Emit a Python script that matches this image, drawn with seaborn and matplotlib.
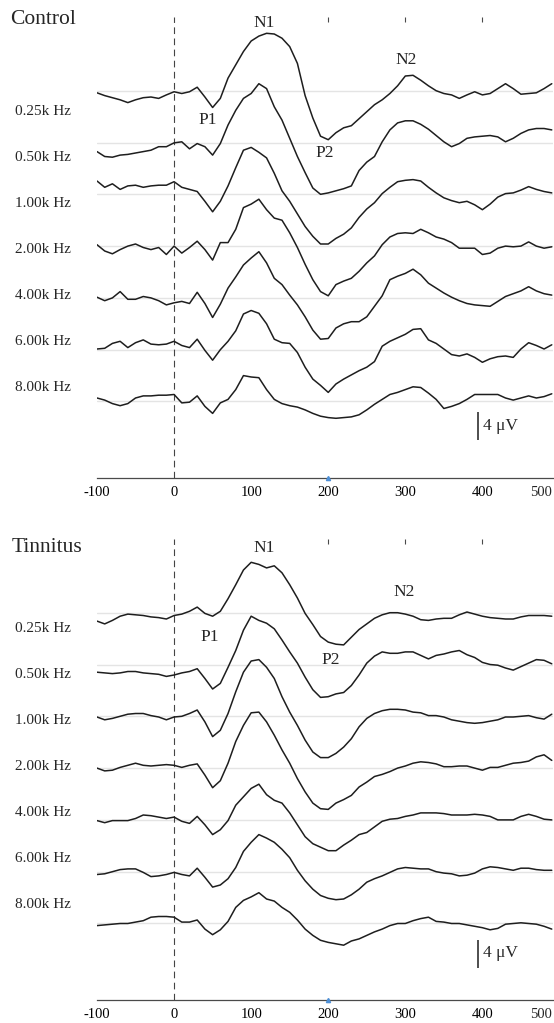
import numpy as np
import matplotlib
matplotlib.use("Agg")
import matplotlib.pyplot as plt
import seaborn as sns

# ---------------------------------------------------------------- data
TIME = np.arange(-100, 491, 10)          # ms
FREQ_LABELS = ["0.25k Hz", "0.50k Hz", "1.00k Hz", "2.00k Hz",
               "4.00k Hz", "6.00k Hz", "8.00k Hz"]
XTICKS = [-100, 0, 100, 200, 300, 400]
XTICK_LABELS = ["-100", "0", "100", "200", "300", "400"]
LAST_TICK_LABEL = "500"
SCALE_UV = 4

# grand-average waveforms (µV), one value every 10 ms from -100 to 490 ms
control_025 = [0.3, 0.7, 1.0, 1.3, 1.7, 1.3, 1.0, 0.9, 1.1, 0.6,
               0.15, 0.4, 0.15, -0.5, 0.9, 2.4, 1.1, -1.8, -3.7, -5.6,
               -7.1, -7.8, -8.2, -8.1, -7.5, -6.3, -3.9, 0.7, 3.9, 6.5,
               7.0, 6.0, 5.3, 5.0, 4.0, 3.0, 2.0, 1.3, 0.4, -0.7,
               -2.1, -2.2, -1.5, -0.7, 0.0, 0.4, 0.6, 1.1, 0.6, 0.15,
               0.6, 0.4, -0.3, -1.0, -0.3, 0.5, 0.4, 0.3, -0.3, -1.0]
control_050 = [1.3, 2.0, 2.1, 1.8, 1.7, 1.5, 1.3, 1.1, 0.6, 0.6,
               0.05, -0.1, 0.9, 0.15, 0.6, 1.8, 0.15, -2.5, -4.6, -6.3,
               -7.0, -8.4, -7.7, -5.1, -3.2, -0.6, 2.0, 4.3, 6.5, 7.4,
               7.2, 6.9, 6.6, 6.2, 4.0, 2.8, 2.0, -0.1, -1.8, -2.8,
               -3.1, -3.1, -2.6, -1.9, -1.0, -0.1, 0.6, 0.15, -0.6, -0.8,
               -0.9, -1.0, -0.8, -0.1, -0.6, -1.3, -1.8, -2.0, -2.0, -1.8]
control_100 = [-1.9, -1.0, -1.5, -0.7, -1.2, -1.3, -1.0, -1.2, -1.3, -1.3,
               -1.8, -1.0, -0.7, -0.4, 1.0, 2.5, 1.0, -1.2, -3.8, -6.3,
               -6.7, -6.0, -5.2, -3.0, -0.5, 1.0, 2.8, 4.6, 6.0, 7.1,
               7.1, 6.3, 5.7, 4.8, 3.3, 2.1, 1.2, -0.1, -1.0, -1.8,
               -2.0, -2.1, -1.9, -1.0, -0.2, 0.5, 0.9, 1.2, 1.0, 1.5,
               2.2, 1.4, 0.4, -0.1, -0.2, -0.6, -1.1, -0.7, -0.4, -0.2]
control_200 = [-0.2, 0.7, 1.1, 0.5, 0.0, -0.3, 0.2, 0.5, 0.2, 1.2,
               0.0, 1.0, 0.2, -0.7, 0.5, 2.0, -0.5, -0.5, -2.4, -5.5,
               -6.0, -6.7, -5.2, -4.0, -3.7, -1.9, 0.2, 2.6, 4.8, 6.5,
               7.1, 5.5, 5.0, 4.6, 3.6, 2.4, 1.4, -0.2, -1.3, -1.8,
               -1.9, -1.8, -2.4, -1.9, -1.3, -1.0, -0.5, 0.3, 0.3, 0.3,
               1.2, 1.0, 0.3, 0.0, 0.1, 0.0, -0.6, 0.0, 0.3, 0.1]
control_400 = [-0.1, 0.4, 0.0, -0.9, 0.2, 0.2, -0.2, 0.0, 0.4, 1.0,
               0.7, 0.5, 0.8, -0.8, 0.8, 2.8, 0.9, -1.4, -3.0, -4.7,
               -5.7, -6.6, -5.0, -2.8, -1.9, -0.4, 1.0, 2.7, 4.6, 5.9,
               5.8, 4.3, 3.7, 3.4, 3.4, 2.7, 1.2, -0.3, -2.6, -3.1,
               -3.5, -4.1, -3.3, -2.1, -1.4, -0.7, -0.1, 0.4, 0.8, 1.0,
               1.1, 1.2, 0.5, -0.2, -0.6, -1.0, -1.6, -1.0, -0.6, -0.4]
control_600 = [-0.1, -0.2, -0.9, -1.2, -0.3, -1.0, -1.4, -0.8, -0.7, -0.8,
               -1.2, -0.6, -0.3, -1.5, 0.1, 1.5, 0.0, -1.2, -2.7, -5.1,
               -5.6, -5.2, -3.7, -1.5, -1.0, -0.9, 0.4, 2.5, 4.2, 5.1,
               6.1, 4.9, 4.2, 3.6, 3.0, 2.5, 1.7, -0.5, -1.2, -1.7,
               -2.2, -2.9, -3.0, -1.4, -0.9, -0.1, 0.7, 0.9, 0.6, 1.1,
               1.8, 1.3, 1.0, 0.9, 1.1, -0.1, -1.0, -0.6, -0.1, -0.7]
control_800 = [-0.5, -0.2, 0.3, 0.6, 0.3, -0.5, -0.8, -0.8, -0.9, -0.9,
               -1.0, 0.2, 0.1, -0.8, 0.7, 1.7, 0.2, -0.3, -1.7, -3.7,
               -3.5, -3.4, -1.7, -0.3, 0.3, 0.6, 0.8, 1.2, 1.7, 2.1,
               2.3, 2.4, 2.3, 2.2, 1.9, 1.2, 0.4, -0.3, -1.0, -1.3,
               -1.7, -2.1, -2.0, -1.2, -0.3, 1.0, 0.7, 0.3, -0.3, -1.0,
               -1.0, -1.0, -1.0, -0.5, -0.2, -0.5, -0.8, -0.5, -0.7, -1.1]

tinnitus_025 = [1.2, 1.6, 1.1, 0.5, 0.2, 0.3, 0.4, 0.6, 0.7, 0.9,
                0.4, 0.2, -0.2, -0.8, 0.1, 0.5, -0.2, -2.0, -4.0, -6.1,
                -7.2, -6.9, -6.4, -6.7, -5.7, -4.0, -2.1, 0.1, 1.7, 3.4,
                4.2, 4.5, 4.6, 3.5, 2.4, 1.6, 0.8, 0.3, 0.0, 0.0,
                0.2, 0.5, 1.0, 1.1, 0.9, 0.8, 0.8, 0.3, -0.1, 0.2,
                0.5, 0.7, 0.8, 0.9, 0.9, 0.6, 0.4, 0.4, 0.4, 0.5]
tinnitus_050 = [1.1, 1.2, 1.3, 1.2, 1.0, 1.0, 1.2, 1.3, 1.4, 1.7,
                1.5, 1.2, 1.0, 0.6, 2.0, 3.5, 2.7, 0.4, -2.0, -4.9,
                -6.9, -6.3, -5.9, -5.1, -3.5, -1.8, -0.2, 1.8, 3.6, 4.7,
                4.6, 4.2, 4.0, 3.0, 1.5, -0.2, -1.2, -1.8, -1.6, -1.6,
                -1.8, -1.8, -1.3, -0.8, -1.3, -1.5, -1.8, -2.0, -1.4, -1.0,
                -0.3, 0.0, 0.1, 0.5, 0.8, 0.3, -0.2, -0.7, -0.6, -0.1]
tinnitus_100 = [0.1, 0.5, 0.3, 0.0, -0.3, -0.4, -0.4, -0.1, 0.1, 0.5,
                0.1, 0.0, -0.4, -0.9, 0.8, 2.9, 2.0, -0.4, -3.5, -6.3,
                -7.9, -8.1, -7.0, -5.4, -2.8, -0.6, 1.3, 3.4, 5.1, 5.9,
                5.9, 5.3, 4.4, 3.2, 1.5, 0.3, -0.4, -0.8, -1.0, -1.0,
                -0.9, -0.6, -0.5, -0.1, -0.1, 0.1, 0.5, 0.7, 0.9, 1.0,
                0.9, 0.7, 0.5, 0.1, 0.1, 0.0, -0.1, 0.2, 0.4, -0.3]
tinnitus_200 = [0.0, 0.4, 0.3, -0.1, -0.4, -0.7, -0.4, -0.3, -0.4, -0.5,
                -0.4, -0.1, -0.4, -0.6, 1.0, 2.8, 1.8, -0.7, -3.8, -6.1,
                -7.9, -8.0, -6.6, -4.7, -2.6, -0.7, 1.5, 3.4, 5.0, 5.8,
                5.9, 5.0, 4.5, 3.9, 2.7, 2.0, 1.2, 0.9, 0.5, 0.0,
                -0.3, -0.7, -0.9, -0.8, -0.6, -0.2, -0.2, -0.3, -0.3, 0.0,
                0.3, -0.1, -0.1, -0.4, -0.7, -0.8, -1.0, -1.6, -1.9, -1.1]
tinnitus_400 = [0.1, 0.4, 0.1, 0.1, 0.1, -0.2, -0.7, -0.6, -0.4, -0.2,
                -0.4, 0.2, 0.5, -0.5, 0.7, 2.1, 1.4, 0.1, -2.1, -3.3,
                -4.5, -5.1, -3.6, -2.8, -2.4, -1.0, 0.7, 2.4, 3.4, 3.9,
                4.4, 4.4, 3.6, 2.9, 2.1, 1.8, 1.0, 0.2, -0.1, -0.2,
                -0.5, -0.7, -1.0, -1.0, -1.0, -0.9, -0.7, -0.7, -0.7, -0.8,
                -0.7, -0.5, 0.0, 0.0, 0.0, -0.5, -0.8, -0.5, -0.1, 0.0]
tinnitus_600 = [0.4, 0.3, 0.0, -0.3, -0.4, -0.4, 0.1, 0.7, 0.6, 0.4,
                0.1, 0.4, 0.6, -0.5, 0.8, 2.2, 1.9, 1.0, -0.6, -2.9,
                -4.2, -5.3, -4.8, -4.2, -3.2, -2.0, -0.2, 1.3, 2.5, 3.4,
                3.8, 4.0, 3.9, 3.3, 2.5, 1.5, 1.0, 0.6, 0.1, -0.4,
                -0.6, -0.5, -0.4, -0.4, 0.0, 0.2, 0.3, 0.6, 0.5, 0.2,
                -0.4, -0.7, -0.6, -0.4, -0.2, -0.5, -0.5, -0.3, -0.2, -0.2]
tinnitus_800 = [0.3, 0.2, 0.1, 0.0, 0.0, -0.2, -0.4, -0.9, -1.0, -1.0,
                -0.9, -0.2, -0.2, -0.5, 0.8, 1.6, 0.9, -0.3, -2.3, -3.3,
                -3.8, -4.4, -3.5, -3.2, -2.3, -1.6, -0.5, 0.8, 1.7, 2.4,
                2.7, 2.9, 3.1, 2.5, 2.2, 1.7, 1.2, 0.8, 0.3, 0.0,
                0.0, -0.4, -0.7, -0.9, -0.3, -0.2, 0.0, 0.0, 0.2, 0.4,
                0.6, 0.9, 0.7, 0.1, 0.0, -0.1, 0.0, 0.1, 0.4, 0.8]

GROUPS = {
    "Control": [control_025, control_050, control_100, control_200,
                control_400, control_600, control_800],
    "Tinnitus": [tinnitus_025, tinnitus_050, tinnitus_100, tinnitus_200,
                 tinnitus_400, tinnitus_600, tinnitus_800],
}

# component labels: (text, latency ms, µV position on the stacked scale)
PEAKS = {
    "Control": [("N1", 117, -9.7), ("P1", 43, 4.2), ("P2", 196, 8.9), ("N2", 301, -4.4)],
    "Tinnitus": [("N1", 117, -9.2), ("P1", 46, 3.5), ("P2", 203, 6.8), ("N2", 298, -3.0)],
}

# ---------------------------------------------------------------- style
sns.set_style("white")
plt.rcParams["font.family"] = ["Liberation Serif", "DejaVu Serif"]
plt.rcParams["axes.unicode_minus"] = False

W, H = 554, 1023
fig = plt.figure(figsize=(W / 100, H / 100), dpi=100)

STEP = 7.4            # µV between stacked traces
Y_TOP, Y_BOTTOM = -10.53, 55.33
INK = "#1e1e1e"


def axes_px(x0, y0, x1, y1):
    return fig.add_axes([x0 / W, 1 - y1 / H, (x1 - x0) / W, (y1 - y0) / H])


panels = [
    # name, axes box (px), title x/y (px), first label y (µV), label step, scale bar
    ("Control", (97, 17, 553, 478), (10, 20), 2.9, 6.59, (45.9, 47.9)),
    ("Tinnitus", (97, 539, 553, 1000), (12, 548), 2.2, 6.57, (46.75, 48.6)),
]

for name, box, (title_x, title_y), lab0, lab_step, (bar_top, bar_text_y) in panels:
    ax = axes_px(*box)
    traces = GROUPS[name]

    for i, wave in enumerate(traces):
        off = i * STEP
        ax.axhline(off, color="#e4e4e4", lw=1.0, zorder=1)
        sns.lineplot(x=TIME, y=off + np.asarray(wave), ax=ax, color=INK,
                     lw=1.1, estimator=None, zorder=3)
    for ln in ax.get_lines():
        ln.set_solid_joinstyle("round")

    ax.axvline(0, color="#444444", lw=0.8, dashes=(6, 4), zorder=2)

    ax.set_xlim(TIME[0], TIME[-1] + 1.6)
    ax.set_ylim(Y_BOTTOM, Y_TOP)
    ax.set_xticks(XTICKS)
    ax.set_xticklabels(XTICK_LABELS, fontsize=10.5)
    ax.set_yticks([])
    ax.set_xlabel("")
    ax.set_ylabel("")
    for side in ("top", "left", "right"):
        ax.spines[side].set_visible(False)
    ax.spines["bottom"].set_color("#4a4a4a")
    ax.spines["bottom"].set_linewidth(0.9)
    ax.tick_params(axis="x", direction="in", length=3.5, width=0.8,
                   colors="#4a4a4a", labelcolor="black", pad=5.5, top=True)
    for val, t in zip(XTICKS, ax.xaxis.get_major_ticks()):
        t.tick2line.set_color("#d2d2d2")
        t.tick2line.set_visible(val >= 200)
    ax.annotate(LAST_TICK_LABEL, xy=(1, 0), xycoords="axes fraction",
                xytext=(-0.5, -5.5), textcoords="offset points",
                ha="right", va="top", fontsize=10.5)
    ax.plot([200], [Y_BOTTOM], marker="^", ms=3, color="#4d8fd6",
            clip_on=False, zorder=4)

    # panel title and frequency labels
    fig.text(title_x / W, 1 - title_y / H, name,
             fontsize=15.5, ha="left", va="center")
    lab_tr = matplotlib.transforms.blended_transform_factory(fig.transFigure, ax.transData)
    for i, lab in enumerate(FREQ_LABELS):
        ax.text(15 / W, lab0 + i * lab_step, lab, transform=lab_tr,
                fontsize=11, ha="left", va="center")

    # component names
    for txt, t_ms, uv in PEAKS[name]:
        ax.text(t_ms, uv, txt, fontsize=12.5, ha="center", va="center")

    # amplitude scale bar
    ax.plot([394, 394], [bar_top, bar_top + SCALE_UV], color=INK, lw=1.1,
            solid_capstyle="butt")
    ax.text(401, bar_text_y, f"{SCALE_UV} \u03bcV", fontsize=12.5,
            ha="left", va="center")

fig.savefig("out.png", dpi=100)
